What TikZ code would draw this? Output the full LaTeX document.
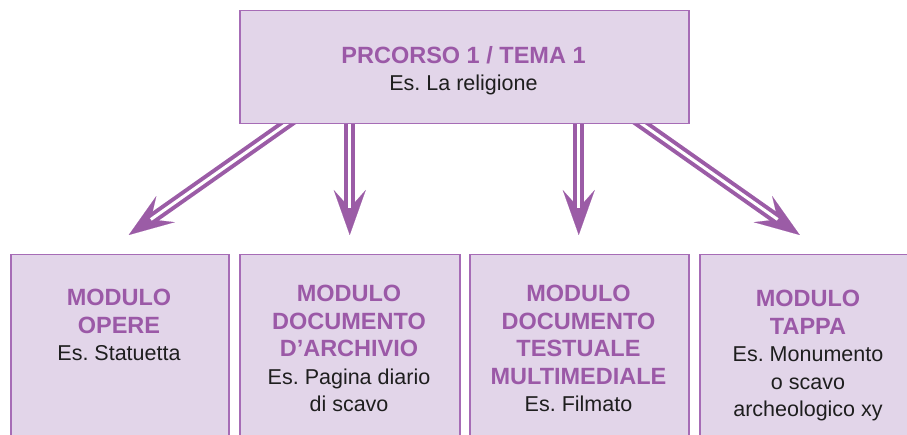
\documentclass[tikz,border=0pt]{standalone}
\usepackage{fontspec}
\setmainfont{Liberation Sans}
\usetikzlibrary{arrows.meta,calc,backgrounds}
\definecolor{boxfill}{RGB}{226,213,233}
\definecolor{boxline}{RGB}{166,108,182}
\definecolor{ptext}{RGB}{155,89,167}
\definecolor{arrc}{RGB}{155,92,166}
\definecolor{btext}{RGB}{30,30,30}
\newcommand{\hdline}[1]{{\color{ptext}\bfseries\fontsize{23.5}{27.5}\selectfont #1}}
\frenchspacing
\begin{document}
\begin{tikzpicture}[x=1pt,y=-1pt,
  boxst/.style={draw=boxline, fill=boxfill, line width=1.5pt, rectangle, inner sep=0pt, anchor=north west},
  txt/.style={align=center, inner sep=0pt, anchor=north, text=btext, font=\frenchspacing\fontsize{21.5}{27.5}\selectfont},
  shaft/.style={draw=arrc, line width=4pt, double=white, double distance=3pt},
  headst/.style={draw=arrc, fill=arrc, line width=0.1pt, -{Stealth[length=45pt,width=32pt,inset=18pt]}}
]
\useasboundingbox (0,0) rectangle (907,435);
\clip (0,0) rectangle (907,435);
% boxes
\node[boxst, minimum width=449pt, minimum height=113pt] (top) at (239,10) {};
\node[boxst, minimum width=218pt, minimum height=200pt] (b1) at (10,254) {};
\node[boxst, minimum width=220pt, minimum height=200pt] (b2) at (239,254) {};
\node[boxst, minimum width=219pt, minimum height=200pt] (b3) at (469,254) {};
\node[boxst, minimum width=220pt, minimum height=200pt] (b4) at (699,254) {};
% texts
\node[txt, font=\frenchspacing\fontsize{21.5}{27}\selectfont] (t0) at (463.5,46) {\hdline{PRCORSO 1 / TEMA 1}\\Es. La religione};
\node[txt] (t1) at (119,289) {\hdline{MODULO}\\\hdline{OPERE}\\Es. Statuetta};
\node[txt] (t2) at (349,285) {\hdline{MODULO}\\\hdline{DOCUMENTO}\\\hdline{D’ARCHIVIO}\\Es. Pagina diario\\di scavo};
\node[txt] (t3) at (578.5,285) {\hdline{MODULO}\\\hdline{DOCUMENTO}\\\hdline{TESTUALE}\\\hdline{MULTIMEDIALE}\\Es. Filmato};
\node[txt] (t4) at (808,290) {\hdline{MODULO}\\\hdline{TAPPA}\\Es. Monumento\\o scavo\\archeologico xy};
% arrow anchors
\coordinate (s1) at ($(top.south)+(-178.5,0)$);
\coordinate (s2) at ($(top.south)+(-114.5,0)$);
\coordinate (s3) at ($(top.south)+(114.5,0)$);
\coordinate (s4) at ($(top.south)+(178.5,0)$);
\coordinate (e1) at ($(b1.north)+(9,-19)$);
\coordinate (e2) at ($(b2.north)+(0,-19)$);
\coordinate (e3) at ($(b3.north)+(-0.5,-19)$);
\coordinate (e4) at ($(b4.north)+(-10,-19)$);
\begin{pgfonlayer}{background}
\foreach \i in {1,2,3,4}{
  \draw[headst] ($(e\i)!35pt!(s\i)$) -- (e\i);
  \draw[shaft] ($(s\i)!-20pt!(e\i)$) -- ($(e\i)!27pt!(s\i)$);
}
\end{pgfonlayer}
\end{tikzpicture}
\end{document}
